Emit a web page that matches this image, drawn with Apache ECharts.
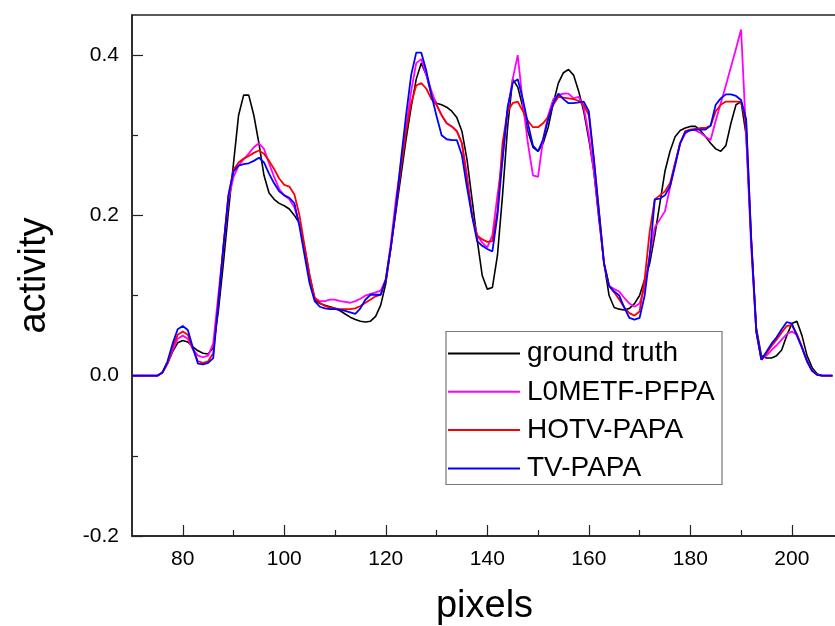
<!DOCTYPE html>
<html>
<head>
<meta charset="utf-8">
<script src="https://cdn.jsdelivr.net/npm/echarts@6/dist/echarts.min.js"></script>
<style>
  html, body { margin: 0; padding: 0; background: #fff; }
  #chart { width: 835px; height: 626px; }
</style>
</head>
<body>
<div id="chart"></div>
<script>
// Pixel positions along the profile line (70 .. 208)
const firstPixel = 70;
const lastPixel = 208;

// Activity profiles, one value per pixel starting at firstPixel
const groundTruth = [
  0, 0, 0, 0, 0, 0, 0.004, 0.015, 0.03, 0.041,
  0.044, 0.042, 0.036, 0.031, 0.028, 0.027, 0.035, 0.08, 0.14, 0.205,
  0.265, 0.325, 0.35, 0.35, 0.325, 0.29, 0.25, 0.228, 0.22, 0.215,
  0.212, 0.208, 0.2, 0.19, 0.16, 0.125, 0.095, 0.09, 0.088, 0.086,
  0.084, 0.081, 0.077, 0.073, 0.07, 0.068, 0.067, 0.068, 0.074, 0.088,
  0.115, 0.16, 0.205, 0.25, 0.295, 0.335, 0.37, 0.39, 0.375, 0.35,
  0.34, 0.338, 0.335, 0.33, 0.322, 0.305, 0.27, 0.22, 0.17, 0.125,
  0.108, 0.11, 0.15, 0.225, 0.31, 0.37, 0.36, 0.335, 0.305, 0.285,
  0.28, 0.29, 0.31, 0.34, 0.365, 0.378, 0.382, 0.375, 0.355, 0.33,
  0.295, 0.255, 0.195, 0.14, 0.1, 0.085, 0.083, 0.082, 0.084, 0.09,
  0.1, 0.12, 0.14, 0.175, 0.215, 0.255, 0.28, 0.298, 0.306, 0.309,
  0.311, 0.311, 0.306, 0.298, 0.29, 0.283, 0.28, 0.287, 0.315, 0.338,
  0.342, 0.3, 0.17, 0.06, 0.025, 0.022, 0.022, 0.025, 0.032, 0.05,
  0.065, 0.068, 0.05, 0.025, 0.01, 0.002, 0, 0, 0
];

const l0metfPfpa = [
  0, 0, 0, 0, 0, 0, 0.004, 0.015, 0.032, 0.046,
  0.05, 0.046, 0.033, 0.025, 0.023, 0.025, 0.04, 0.1, 0.16, 0.22,
  0.248, 0.262, 0.27, 0.277, 0.285, 0.29, 0.283, 0.265, 0.248, 0.233,
  0.225, 0.22, 0.21, 0.19, 0.155, 0.12, 0.097, 0.093, 0.093, 0.095,
  0.095, 0.093, 0.092, 0.091, 0.093, 0.096, 0.1, 0.102, 0.104, 0.106,
  0.12, 0.165, 0.22, 0.265, 0.31, 0.355, 0.39, 0.395, 0.375, 0.355,
  0.338, 0.325, 0.315, 0.311, 0.305, 0.29, 0.25, 0.2, 0.175, 0.166,
  0.16, 0.175, 0.225, 0.27, 0.33, 0.37, 0.4, 0.34, 0.29, 0.25,
  0.248, 0.295, 0.325, 0.345, 0.35, 0.352, 0.352, 0.346, 0.348, 0.335,
  0.3, 0.255, 0.2, 0.14, 0.112, 0.108, 0.105, 0.097, 0.09, 0.086,
  0.09, 0.11, 0.15, 0.185, 0.195, 0.205, 0.235, 0.265, 0.29, 0.302,
  0.307, 0.306, 0.303, 0.298, 0.294, 0.318, 0.34, 0.362, 0.385, 0.408,
  0.432, 0.3, 0.16, 0.055, 0.02, 0.025, 0.032, 0.038, 0.045, 0.052,
  0.055, 0.051, 0.035, 0.018, 0.006, 0.001, 0, 0, 0
];

const hotvPapa = [
  0, 0, 0, 0, 0, 0, 0.004, 0.016, 0.036, 0.051,
  0.055, 0.051, 0.033, 0.018, 0.016, 0.018, 0.028, 0.09, 0.16, 0.225,
  0.257, 0.266, 0.271, 0.274, 0.278, 0.281, 0.277, 0.268, 0.258, 0.246,
  0.238, 0.236, 0.226, 0.2, 0.162, 0.125, 0.097, 0.091, 0.087, 0.085,
  0.084, 0.083, 0.083, 0.083, 0.084, 0.087, 0.091, 0.095, 0.099, 0.101,
  0.12, 0.16, 0.21, 0.26, 0.305, 0.34, 0.362, 0.365, 0.358, 0.345,
  0.338, 0.325, 0.315, 0.311, 0.305, 0.29, 0.245, 0.2, 0.175, 0.17,
  0.167, 0.168, 0.205, 0.29, 0.33, 0.34, 0.342, 0.33, 0.318, 0.31,
  0.31, 0.315, 0.323, 0.338, 0.348, 0.347, 0.346, 0.345, 0.343, 0.338,
  0.325, 0.27, 0.205, 0.14, 0.112, 0.104, 0.095, 0.085, 0.078, 0.075,
  0.08, 0.12, 0.18, 0.22, 0.225, 0.23, 0.24, 0.265, 0.29, 0.305,
  0.307, 0.308, 0.309, 0.309, 0.312, 0.33, 0.338, 0.342, 0.342, 0.342,
  0.342, 0.315, 0.17, 0.055, 0.02, 0.028, 0.037, 0.045, 0.054, 0.062,
  0.063, 0.052, 0.036, 0.018, 0.006, 0.001, 0, 0, 0
];

const tvPapa = [
  0, 0, 0, 0, 0, 0, 0.004, 0.018, 0.04, 0.058,
  0.062, 0.057, 0.035, 0.015, 0.014, 0.016, 0.022, 0.09, 0.16, 0.225,
  0.255, 0.262, 0.264, 0.265, 0.268, 0.272, 0.266, 0.252, 0.24, 0.23,
  0.225, 0.222, 0.215, 0.186, 0.15, 0.115, 0.093, 0.086, 0.084, 0.083,
  0.083, 0.082, 0.081, 0.079, 0.077, 0.084, 0.095, 0.101, 0.101, 0.101,
  0.12, 0.16, 0.21, 0.27, 0.325, 0.375, 0.403, 0.403, 0.38, 0.35,
  0.324, 0.3, 0.295, 0.294, 0.294, 0.275, 0.235, 0.199, 0.168, 0.162,
  0.158, 0.155, 0.2, 0.27, 0.335, 0.365, 0.37, 0.345, 0.315, 0.287,
  0.28, 0.295, 0.32, 0.34, 0.352, 0.345, 0.34, 0.34, 0.341, 0.342,
  0.33, 0.27, 0.205, 0.14, 0.112, 0.105, 0.1, 0.085, 0.072, 0.07,
  0.072, 0.1, 0.15, 0.22, 0.221, 0.225, 0.236, 0.262, 0.29, 0.304,
  0.306, 0.307, 0.307, 0.307, 0.312, 0.338, 0.346, 0.351, 0.351, 0.349,
  0.344, 0.32, 0.17, 0.055, 0.02, 0.03, 0.04, 0.048, 0.058, 0.067,
  0.065, 0.05, 0.035, 0.018, 0.006, 0.001, 0, 0, 0
];

// Tick positions
const xMajorTicks = [80, 100, 120, 140, 160, 180, 200];
const xMinorTicks = [90, 110, 130, 150, 170, 190];
const yMajorTicks = [-0.2, 0.0, 0.2, 0.4];
const yMinorTicks = [-0.1, 0.1, 0.3];

const seriesNames = ['ground truth', 'L0METF-PFPA', 'HOTV-PAPA', 'TV-PAPA'];
const seriesColors = ['#000000', '#ff00ff', '#ff0000', '#0000ff'];
const seriesValues = [groundTruth, l0metfPfpa, hotvPapa, tvPapa];

function pairs(values) {
  return values.map((v, i) => [firstPixel + i, v]);
}

const FONT = '"Liberation Sans", Arial, sans-serif';
const AXIS_COLOR = '#222';

const chart = echarts.init(document.getElementById('chart'), null, { renderer: 'canvas' });

chart.setOption({
  animation: false,
  backgroundColor: '#fff',
  grid: {
    left: 132, right: -2, top: 15, bottom: 90,
    containLabel: false,
    outerBoundsMode: 'none',
    show: true, borderColor: AXIS_COLOR, borderWidth: 1.5, backgroundColor: 'transparent'
  },
  legend: {
    orient: 'vertical',
    left: 446, top: 331,
    padding: [7.5, 4, 2, 2],
    icon: 'rect',
    itemWidth: 72, itemHeight: 2,
    itemGap: 8.3,
    textStyle: { fontFamily: FONT, fontSize: 28, color: '#000', lineHeight: 30, padding: [0, 0, 0, 2] },
    data: seriesNames
  },
  graphic: [{
    type: 'rect',
    shape: { x: 446, y: 331.5, width: 276, height: 153 },
    style: { fill: 'rgba(255,255,255,0)', stroke: '#777', lineWidth: 1.2 },
    z: 100
  }],
  xAxis: [{
    type: 'value',
    min: firstPixel, max: 208.9,
    position: 'bottom',
    name: 'pixels', nameLocation: 'middle', nameGap: 52,
    nameTextStyle: { fontFamily: FONT, fontSize: 38, color: '#000' },
    axisLine: { show: true, onZero: false, lineStyle: { color: AXIS_COLOR, width: 1.5 } },
    axisTick: { show: true, inside: true, length: 11, customValues: xMajorTicks, lineStyle: { color: AXIS_COLOR, width: 1.2 } },
    axisLabel: { show: true, customValues: xMajorTicks, margin: 13, fontFamily: FONT, fontSize: 21, color: '#000' },
    splitLine: { show: false }
  }, {
    type: 'value',
    min: firstPixel, max: 208.9,
    position: 'bottom',
    axisLine: { show: false, onZero: false },
    axisTick: { show: true, inside: true, length: 6, customValues: xMinorTicks, lineStyle: { color: AXIS_COLOR, width: 1.2 } },
    axisLabel: { show: false },
    splitLine: { show: false }
  }],
  yAxis: [{
    type: 'value',
    min: -0.2, max: 0.45,
    position: 'left',
    name: 'activity', nameLocation: 'middle', nameGap: 78, nameRotate: 90,
    nameTextStyle: { fontFamily: FONT, fontSize: 38, color: '#000' },
    axisLine: { show: true, onZero: false, lineStyle: { color: AXIS_COLOR, width: 1.5 } },
    axisTick: { show: true, inside: true, length: 11, customValues: yMajorTicks, lineStyle: { color: AXIS_COLOR, width: 1.2 } },
    axisLabel: {
      show: true, customValues: yMajorTicks, margin: 13,
      fontFamily: FONT, fontSize: 21, color: '#000',
      formatter: v => v.toFixed(1)
    },
    splitLine: { show: false }
  }, {
    type: 'value',
    min: -0.2, max: 0.45,
    position: 'left',
    axisLine: { show: false, onZero: false },
    axisTick: { show: true, inside: true, length: 6, customValues: yMinorTicks, lineStyle: { color: AXIS_COLOR, width: 1.2 } },
    axisLabel: { show: false },
    splitLine: { show: false }
  }],
  series: seriesNames.map((name, k) => ({
    name: name,
    type: 'line',
    xAxisIndex: 0, yAxisIndex: 0,
    data: pairs(seriesValues[k]),
    showSymbol: false,
    symbol: 'none',
    color: seriesColors[k],
    lineStyle: { color: seriesColors[k], width: k === 0 ? 1.6 : 1.8 },
    clip: true
  }))
});
</script>
</body>
</html>
